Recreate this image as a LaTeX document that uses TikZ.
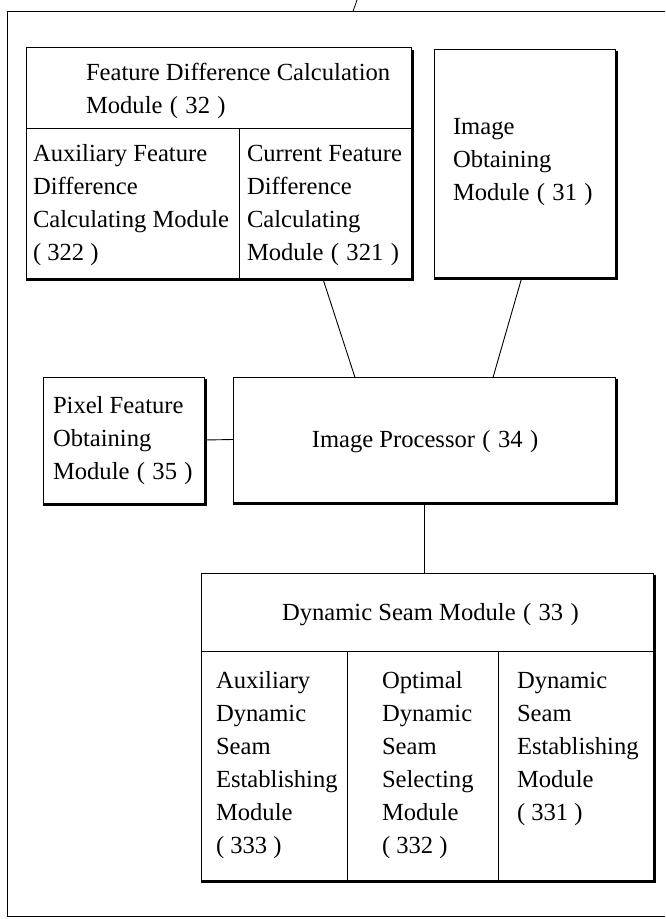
\documentclass[tikz,border=0pt]{standalone}
\usepackage{fontspec}
\setmainfont{Liberation Serif}
\usetikzlibrary{calc}
\newcommand\num[1]{\hspace{0.3em}(\hspace{0.3em}#1\hspace{0.3em})}
\newcommand\numl[1]{(\hspace{0.25em}#1\hspace{0.25em})}
\newcommand\lines[1]{\begin{tabular}[t]{@{}l@{}}#1\end{tabular}}
\newcommand\boxshade[1]{\draw[shadeline] ([shift={(1,2)}]#1.north east) -- ([shift={(1,1)}]#1.south east) -- ([shift={(0,1)}]#1.south west);}
\begin{document}
\begin{tikzpicture}[x=1pt,y=-1pt,
  font=\fontsize{24.6}{33}\selectfont,
  box/.style={draw, line width=0.9pt, anchor=north west, inner sep=0pt, outer sep=0pt},
  txt/.style={anchor=base west, inner sep=0pt, outer sep=0pt},
  link/.style={line width=0.9pt},
  divider/.style={line width=0.9pt},
  frameline/.style={line width=0.8pt},
  shadeline/.style={line width=3pt}]
\useasboundingbox (0,0) rectangle (665,919);
% outer frame
\coordinate (ftr) at (665,11.5);
\coordinate (ftl) at (7.5,11.5);
\coordinate (fbl) at (7.5,916);
\coordinate (fbr) at (665,916);
\draw[frameline] (ftr) -- (ftl) -- (fbl) -- (fbr);
\coordinate (tk1) at (357,0);
\coordinate (tk2) at (353,11.5);
\draw[frameline] (tk1) -- (tk2);
% boxes
\node[box, minimum width=385pt, minimum height=231pt] (fdc) at (26,47.5) {};
\node[box, minimum width=181pt, minimum height=228pt] (iom) at (434,49) {};
\node[box, minimum width=161pt, minimum height=126pt] (pfo) at (43,377) {};
\node[box, minimum width=382pt, minimum height=125pt] (ip) at (233,377) {};
\node[box, minimum width=452pt, minimum height=307pt] (dsm) at (201,573) {};
\boxshade{fdc}
\boxshade{iom}
\boxshade{pfo}
\boxshade{ip}
\boxshade{dsm}
% dividers
\draw[divider] (26,128) -- (411,128);
\draw[divider] (239.5,128) -- (239.5,278.5);
\draw[divider] (201,651) -- (653,651);
\draw[divider] (347.5,651) -- (347.5,880);
\draw[divider] (498,651) -- (498,880);
% texts
\node[txt] (t32) at (86,80) {\lines{Feature Difference Calculation\\Module\num{32}}};
\node[txt] (t322) at (33,161) {\lines{Auxiliary Feature\\Difference\\Calculating Module\\\numl{322}}};
\node[txt] (t321) at (247,161) {\lines{Current Feature\\Difference\\Calculating\\Module\num{321}}};
\node[txt] (t31) at (453,134) {\lines{Image\\Obtaining\\Module\num{31}}};
\node[txt] (t35) at (53,413) {\lines{Pixel Feature\\Obtaining\\Module\num{35}}};
\node[anchor=base, inner sep=0pt] (t34) at (425,447) {Image Processor\num{34}};
\node[txt] (t33) at (282,620) {Dynamic Seam Module\num{33}};
\node[txt] (t333) at (216,688.5) {\lines{Auxiliary\\Dynamic\\Seam\\Establishing\\Module\\\numl{333}}};
\node[txt] (t332) at (382,688.5) {\lines{Optimal\\Dynamic\\Seam\\Selecting\\Module\\\numl{332}}};
\node[txt] (t331) at (517,688.5) {\lines{Dynamic\\Seam\\Establishing\\Module\\\numl{331}}};
% connectors
\draw[link] ($(fdc.south west)!0.771!(fdc.south east)$) -- ($(ip.north west)!0.319!(ip.north east)$);
\draw[link] ($(iom.south west)!0.486!(iom.south east)$) -- ($(ip.north west)!0.681!(ip.north east)$);
\draw[link] (pfo.east) -- (ip.west);
\draw[link] (ip.south) -- (ip.south |- dsm.north);
\end{tikzpicture}
\end{document}
